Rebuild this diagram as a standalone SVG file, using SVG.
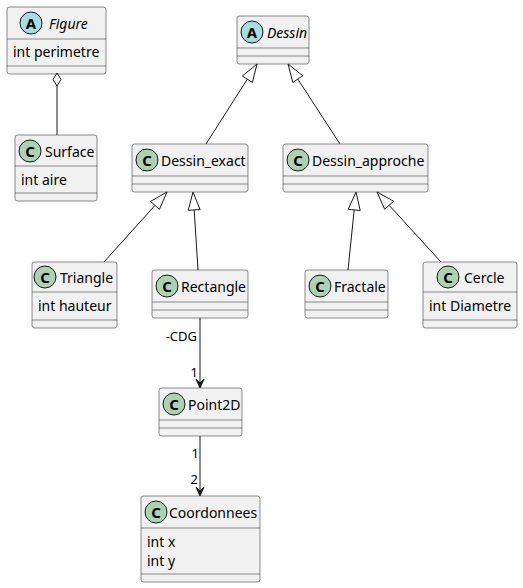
<svg xmlns="http://www.w3.org/2000/svg" width="523" height="588" viewBox="0 0 523 588">
<style>
.box{fill:#F1F1F1;stroke:#181818;stroke-width:0.5}
.sep{stroke:#181818;stroke-width:0.5}
.ci{fill:#ADD1B2;stroke:#181818;stroke-width:1}
.ca{fill:#A9DCDF;stroke:#181818;stroke-width:1}
.ic{font-family:"Noto Sans","DejaVu Sans",sans-serif;font-size:15px;font-weight:bold;fill:#000;text-anchor:middle}
.nm{font-family:"Noto Sans","DejaVu Sans",sans-serif;font-size:14px;fill:#000}
.ab{font-style:italic}
.at{font-family:"Noto Sans","DejaVu Sans",sans-serif;font-size:14px;fill:#000}
.lb{font-family:"Noto Sans","DejaVu Sans",sans-serif;font-size:13px;fill:#000;text-anchor:end}
.ln{stroke:#181818;stroke-width:1;fill:none}
.tri{fill:none;stroke:#181818;stroke-width:1}
.ah{fill:#181818;stroke:#181818;stroke-width:1}
</style>
<rect width="523" height="588" fill="#FFFFFF"/>

<g id="Figure">
<rect class="box" x="7" y="7" width="99" height="67" rx="2.5"/>
<circle class="ca" cx="31" cy="23" r="11"/><text class="ic" x="31" y="28.5">A</text>
<text class="nm ab" x="49" y="28.5">Figure</text>
<line class="sep" x1="7" y1="39" x2="106" y2="39"/>
<text class="at" x="13" y="57">int perimetre</text>
<line class="sep" x1="7" y1="66" x2="106" y2="66"/>
</g>

<g id="Surface">
<rect class="box" x="15" y="135" width="82" height="66" rx="2.5"/>
<circle class="ci" cx="30" cy="151" r="11"/><text class="ic" x="30" y="156.5">C</text>
<text class="nm" x="45" y="156.5">Surface</text>
<line class="sep" x1="15" y1="166" x2="97" y2="166"/>
<text class="at" x="21" y="185">int aire</text>
<line class="sep" x1="15" y1="193" x2="97" y2="193"/>
</g>

<g id="Dessin">
<rect class="box" x="237" y="16" width="72" height="48" rx="2.5"/>
<circle class="ca" cx="252" cy="32" r="11"/><text class="ic" x="252" y="37.5">A</text>
<text class="nm ab" x="267" y="37.5">Dessin</text>
<line class="sep" x1="237" y1="48" x2="309" y2="48"/>
<line class="sep" x1="237" y1="56" x2="309" y2="56"/>
</g>

<g id="Dessin_exact">
<rect class="box" x="132" y="144" width="116" height="48" rx="2.5"/>
<circle class="ci" cx="147" cy="160" r="11"/><text class="ic" x="147" y="165.5">C</text>
<text class="nm" x="161" y="165.5">Dessin_exact</text>
<line class="sep" x1="132" y1="176" x2="248" y2="176"/>
<line class="sep" x1="132" y1="184" x2="248" y2="184"/>
</g>

<g id="Dessin_approche">
<rect class="box" x="283" y="144" width="145" height="48" rx="2.5"/>
<circle class="ci" cx="298" cy="160" r="11"/><text class="ic" x="298" y="165.5">C</text>
<text class="nm" x="312" y="165.5">Dessin_approche</text>
<line class="sep" x1="283" y1="176" x2="428" y2="176"/>
<line class="sep" x1="283" y1="184" x2="428" y2="184"/>
</g>

<g id="Triangle">
<rect class="box" x="32" y="262" width="85" height="66" rx="2.5"/>
<circle class="ci" cx="45" cy="277" r="11"/><text class="ic" x="45" y="282.5">C</text>
<text class="nm" x="60" y="282.5">Triangle</text>
<line class="sep" x1="32" y1="292" x2="117" y2="292"/>
<text class="at" x="38" y="311">int hauteur</text>
<line class="sep" x1="32" y1="320" x2="117" y2="320"/>
</g>

<g id="Rectangle">
<rect class="box" x="152" y="270" width="96" height="48" rx="2.5"/>
<circle class="ci" cx="167" cy="286" r="11"/><text class="ic" x="167" y="291.5">C</text>
<text class="nm" x="181" y="291.5">Rectangle</text>
<line class="sep" x1="152" y1="302" x2="248" y2="302"/>
<line class="sep" x1="152" y1="310" x2="248" y2="310"/>
</g>

<g id="Fractale">
<rect class="box" x="305" y="270" width="83" height="48" rx="2.5"/>
<circle class="ci" cx="320" cy="286" r="11"/><text class="ic" x="320" y="291.5">C</text>
<text class="nm" x="334" y="291.5">Fractale</text>
<line class="sep" x1="305" y1="302" x2="388" y2="302"/>
<line class="sep" x1="305" y1="310" x2="388" y2="310"/>
</g>

<g id="Cercle">
<rect class="box" x="423" y="262" width="94" height="66" rx="2.5"/>
<circle class="ci" cx="448" cy="277" r="11"/><text class="ic" x="448" y="282.5">C</text>
<text class="nm" x="464" y="282.5">Cercle</text>
<line class="sep" x1="423" y1="292" x2="517" y2="292"/>
<text class="at" x="429" y="311">int Diametre</text>
<line class="sep" x1="423" y1="320" x2="517" y2="320"/>
</g>

<g id="Point2D">
<rect class="box" x="159" y="388" width="83" height="48" rx="2.5"/>
<circle class="ci" cx="174" cy="404" r="11"/><text class="ic" x="174" y="409.5">C</text>
<text class="nm" x="188" y="409.5">Point2D</text>
<line class="sep" x1="159" y1="420" x2="242" y2="420"/>
<line class="sep" x1="159" y1="428" x2="242" y2="428"/>
</g>

<g id="Coordonnees">
<rect class="box" x="141" y="496" width="119" height="86" rx="2.5"/>
<circle class="ci" cx="156" cy="512" r="11"/><text class="ic" x="156" y="517.5">C</text>
<text class="nm" x="169" y="517.5">Coordonnees</text>
<line class="sep" x1="141" y1="528" x2="260" y2="528"/>
<text class="at" x="147" y="546.5">int x</text>
<text class="at" x="147" y="566">int y</text>
<line class="sep" x1="141" y1="574" x2="260" y2="574"/>
</g>

<g id="connectors">
<polygon class="tri" points="57,73 61,79.5 57,86 53,79.5"/>
<line class="ln" x1="57" y1="86" x2="57" y2="135"/>
<line class="ln" x1="206" y1="144" x2="247.3" y2="79.2"/>
<polygon class="tri" points="257,64 252.4,82.4 242.3,76 257,64"/>
<line class="ln" x1="340" y1="144" x2="297.8" y2="79.1"/>
<polygon class="tri" points="288,64 302.8,75.8 292.8,82.4 288,64"/>
<line class="ln" x1="104" y1="262" x2="155" y2="205.4"/>
<polygon class="tri" points="167,192 159.4,209.4 150.5,201.4 167,192"/>
<line class="ln" x1="198" y1="270" x2="194.2" y2="210"/>
<polygon class="tri" points="193,192 200.1,209.6 188.2,210.3 193,192"/>
<line class="ln" x1="348" y1="270" x2="354.2" y2="209.9"/>
<polygon class="tri" points="356,192 360.2,210.5 348.2,209.3 356,192"/>
<line class="ln" x1="441" y1="262" x2="389.2" y2="205.3"/>
<polygon class="tri" points="377,192 393.6,201.2 384.7,209.3 377,192"/>
<line class="ln" x1="200" y1="318" x2="200" y2="387"/>
<polygon class="ah" points="200,388 204,379 200,383 196,379 200,388"/>
<text class="lb" x="197" y="341">-CDG</text>
<text class="lb" x="198" y="377">1</text>
<line class="ln" x1="200" y1="436" x2="200" y2="495"/>
<polygon class="ah" points="200,496 204,487 200,491 196,487 200,496"/>
<text class="lb" x="199" y="458">1</text>
<text class="lb" x="198" y="484">2</text>
</g>
</svg>
